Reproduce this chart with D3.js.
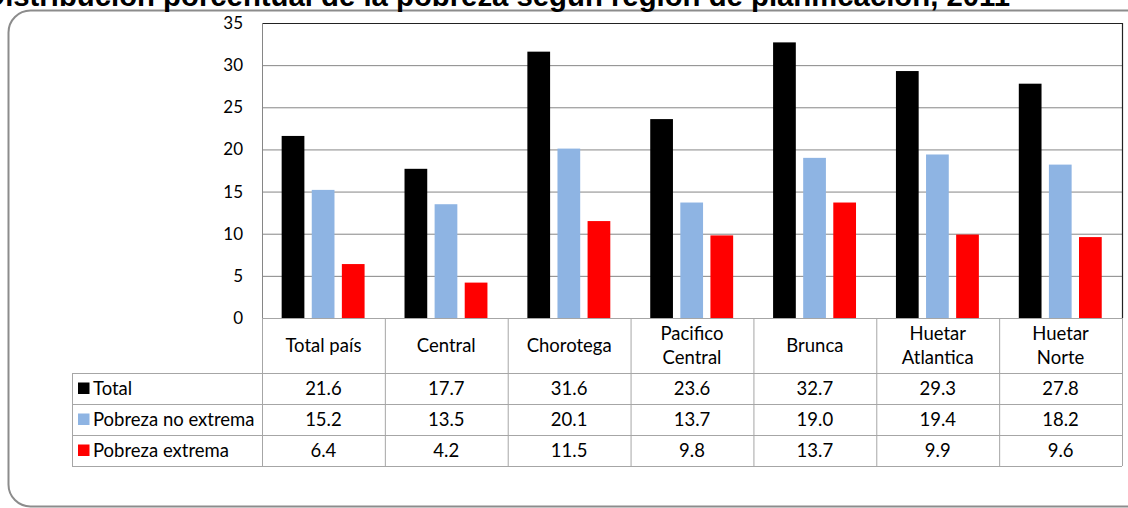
<!DOCTYPE html>
<html><head><meta charset="utf-8">
<script src="https://cdn.jsdelivr.net/npm/d3@7"></script>
<style>
html,body{margin:0;padding:0;background:#fff;}
svg{display:block;}
</style></head>
<body>
<svg id="chart" width="1128" height="508"></svg>
<script>
const title = "Distribución porcentual de la pobreza según región de planificación, 2011";
const categories = ["Total país", "Central", "Chorotega", "Pacifico Central", "Brunca", "Huetar Atlantica", "Huetar Norte"];
const categoryLines = [["Total país"], ["Central"], ["Chorotega"], ["Pacifico", "Central"], ["Brunca"], ["Huetar", "Atlantica"], ["Huetar", "Norte"]];
const seriesNames = ["Total", "Pobreza no extrema", "Pobreza extrema"];
const totalValues = [21.6, 17.7, 31.6, 23.6, 32.7, 29.3, 27.8];
const noExtremaValues = [15.2, 13.5, 20.1, 13.7, 19.0, 19.4, 18.2];
const extremaValues = [6.4, 4.2, 11.5, 9.8, 13.7, 9.9, 9.6];
const yTicks = [0, 5, 10, 15, 20, 25, 30, 35];
const seriesColors = ["#000000", "#8EB4E3", "#FF0000"];

const seriesValues = [totalValues, noExtremaValues, extremaValues];
const FONT = "Lato, 'Noto Sans', sans-serif";
const TABLE_FS = 18.5;

const svg = d3.select("#chart");

// outer rounded frame
svg.append("rect").attr("x", 8.5).attr("y", 10.5).attr("width", 1140).attr("height", 496)
  .attr("rx", 22).attr("fill", "none").attr("stroke", "#8c8c8c").attr("stroke-width", 2);

// title (cut at the top edge, as in the reference)
svg.append("text").attr("x", -16).attr("y", 6)
  .attr("font-family", "'Liberation Sans', Arial, sans-serif").attr("font-weight", "bold")
  .attr("font-size", 29).attr("textLength", 1026).attr("lengthAdjust", "spacingAndGlyphs")
  .attr("fill", "#000").text(title);

const plotLeft = 262, plotRight = 1122, plotTop = 23, plotBottom = 318;
const x = d3.scaleBand().domain(categories).range([plotLeft, plotRight]).padding(0);
const y = d3.scaleLinear().domain([0, 35]).range([plotBottom, plotTop]);
const bw = x.bandwidth();
const xs = d3.scaleBand().domain(seriesNames).range([bw * 0.16, bw * 0.835]).paddingInner(0.245).paddingOuter(0);

// gridlines
svg.append("g").selectAll("line").data(yTicks.filter(t => t > 0 && t < 35)).join("line")
  .attr("x1", plotLeft).attr("x2", plotRight).attr("y1", d => y(d) + 0.5).attr("y2", d => y(d) + 0.5)
  .attr("stroke", "#868686").attr("stroke-width", 1);

// y axis labels
const yAxis = svg.append("g").attr("transform", `translate(${plotLeft},0)`)
  .call(d3.axisLeft(y).tickValues(yTicks).tickSize(0).tickPadding(19));
yAxis.select(".domain").remove();
yAxis.selectAll("text").attr("font-family", FONT).attr("font-size", 17).attr("fill", "#000");

// bars
const gBars = svg.append("g");
seriesNames.forEach((s, si) => {
  gBars.append("g").selectAll("rect").data(categories).join("rect")
    .attr("x", d => x(d) + xs(s))
    .attr("width", xs.bandwidth())
    .attr("y", (d, i) => y(seriesValues[si][i]))
    .attr("height", (d, i) => y(0) - y(seriesValues[si][i]))
    .attr("fill", seriesColors[si]);
});

// plot frame
svg.append("line").attr("x1", plotLeft).attr("x2", plotRight + 0.5).attr("y1", plotTop + 0.5).attr("y2", plotTop + 0.5).attr("stroke", "#222").attr("stroke-width", 1.2);
svg.append("line").attr("x1", plotRight + 0.5).attr("x2", plotRight + 0.5).attr("y1", plotTop).attr("y2", plotBottom).attr("stroke", "#222").attr("stroke-width", 1.2);
svg.append("line").attr("x1", plotLeft + 0.5).attr("x2", plotLeft + 0.5).attr("y1", plotTop).attr("y2", plotBottom).attr("stroke", "#868686");

// data table
const rowTop = [318, 373, 404, 435, 466];
const tableLeft = 72;
const gridColor = "#a6a6a6";
const tg = svg.append("g");
tg.append("line").attr("x1", plotLeft).attr("x2", plotRight).attr("y1", rowTop[0] + 0.5).attr("y2", rowTop[0] + 0.5).attr("stroke", gridColor);
rowTop.slice(1).forEach(r => {
  tg.append("line").attr("x1", tableLeft).attr("x2", plotRight).attr("y1", r + 0.5).attr("y2", r + 0.5).attr("stroke", gridColor);
});
tg.append("line").attr("x1", tableLeft + 0.5).attr("x2", tableLeft + 0.5).attr("y1", rowTop[1]).attr("y2", rowTop[4]).attr("stroke", gridColor);
[...categories.map(c => x(c)), plotRight].forEach(vx => {
  tg.append("line").attr("x1", vx + 0.5).attr("x2", vx + 0.5).attr("y1", rowTop[0]).attr("y2", rowTop[4]).attr("stroke", gridColor);
});

// header labels
categories.forEach((c, i) => {
  const lines = categoryLines[i];
  const cx = x(c) + bw / 2;
  const cy = (rowTop[0] + rowTop[1]) / 2;
  const lh = 23.5;
  lines.forEach((ln, li) => {
    tg.append("text").attr("x", cx).attr("y", cy + (li - (lines.length - 1) / 2) * lh)
      .attr("dy", "0.35em").attr("text-anchor", "middle")
      .attr("font-family", FONT).attr("font-size", TABLE_FS).attr("fill", "#000").text(ln);
  });
});

// rows
seriesNames.forEach((s, si) => {
  const cy = (rowTop[si + 1] + rowTop[si + 2]) / 2;
  tg.append("rect").attr("x", 78).attr("y", cy - 6).attr("width", 11.5).attr("height", 11.5).attr("fill", seriesColors[si]);
  tg.append("text").attr("x", 93).attr("y", cy).attr("dy", "0.35em")
    .attr("font-family", FONT).attr("font-size", TABLE_FS).attr("fill", "#000").text(s);
  categories.forEach((c, i) => {
    tg.append("text").attr("x", x(c) + bw / 2).attr("y", cy).attr("dy", "0.35em").attr("text-anchor", "middle")
      .attr("font-family", FONT).attr("font-size", TABLE_FS).attr("fill", "#000")
      .text(d3.format(".1f")(seriesValues[si][i]));
  });
});
</script>
</body></html>
